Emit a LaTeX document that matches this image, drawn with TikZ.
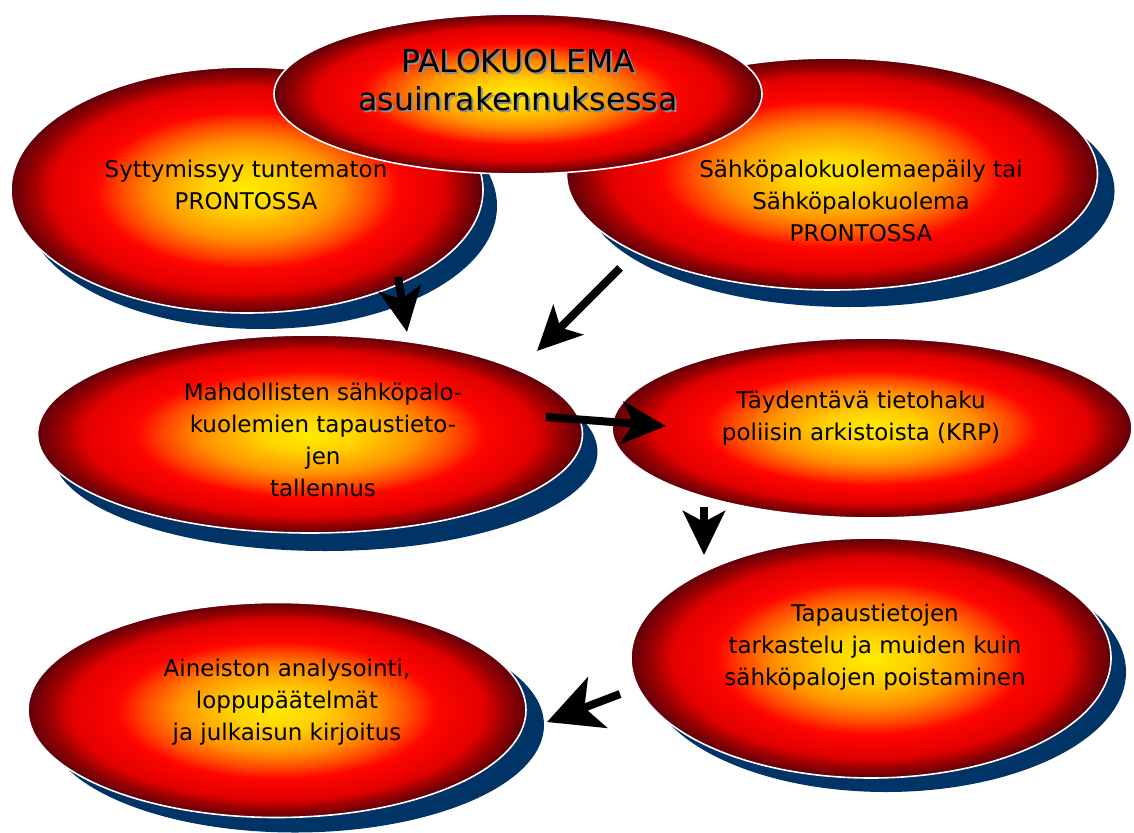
\documentclass[tikz,border=0pt]{standalone}
\usepackage{fontspec}
\setmainfont{DejaVu Sans}
\usetikzlibrary{shapes.geometric, arrows.meta}
\definecolor{shadowblue}{RGB}{0,51,102}
\definecolor{fireyellow}{RGB}{255,236,0}
\definecolor{fireyellow2}{RGB}{255,210,0}
\definecolor{fireorange}{RGB}{255,145,0}
\definecolor{fireredorange}{RGB}{255,70,0}
\definecolor{firered}{RGB}{255,5,0}
\definecolor{firered2}{RGB}{225,0,0}
\definecolor{firered3}{RGB}{160,0,0}
\definecolor{firedark}{RGB}{95,0,10}
\definecolor{titleshadow}{RGB}{140,140,140}
\pgfdeclareradialshading{fire}{\pgfpointorigin}{color(0bp)=(fireyellow); color(4.5bp)=(fireyellow2); color(10bp)=(fireorange); color(13.5bp)=(fireredorange); color(16bp)=(firered); color(20.8bp)=(firered2); color(22.7bp)=(firered3); color(25bp)=(firedark); color(50bp)=(firedark)}
\begin{document}
\begin{tikzpicture}[x=1pt,y=-1pt,
  fireell/.style={ellipse, inner sep=0pt, shade, shading=fire, draw=white, line width=1.6pt},
  shadowell/.style={ellipse, inner sep=0pt, fill=shadowblue, draw=none},
  bodytext/.style={align=center, inner sep=0pt, text=black, font=\fontsize{23}{32}\selectfont,
    execute at begin node=\strut, execute at end node=\strut},
  titletext/.style={align=center, inner sep=0pt, font=\fontsize{31.5}{38}\selectfont,
    execute at begin node=\strut, execute at end node=\strut},
  flow/.style={line width=8pt, -{Stealth[length=44pt,width=42pt,inset=11pt]}},
  bigflow/.style={line width=8pt, -{Stealth[length=54pt,width=54pt,inset=14pt]}}
]
\clip (0,0) rectangle (1134,832);
\fill[white] (0,0) rectangle (1134,832);

% top-left
\node[shadowell, minimum width=472pt, minimum height=246pt] (s1) at (261,206) {};
\node[fireell, minimum width=472pt, minimum height=246pt] (e1) at (247,190) {};
% top-right
\node[shadowell, minimum width=531pt, minimum height=232pt] (s2) at (849,191) {};
\node[fireell, minimum width=531pt, minimum height=232pt] (e2) at (832,174) {};
% title
\node[fireell, minimum width=488pt, minimum height=160pt] (e0) at (518,94) {};
% middle-left
\node[shadowell, minimum width=545pt, minimum height=198pt] (s3) at (325,452) {};
\node[fireell, minimum width=545pt, minimum height=198pt] (e3) at (310,434) {};
% middle-right
\node[fireell, minimum width=520pt, minimum height=180pt] (e4) at (872,428) {};
% bottom-right
\node[shadowell, minimum width=480pt, minimum height=240pt] (s5) at (886,672) {};
\node[fireell, minimum width=480pt, minimum height=240pt] (e5) at (871,658) {};
% bottom-left
\node[shadowell, minimum width=498pt, minimum height=215pt] (s6) at (295,725) {};
\node[fireell, minimum width=498pt, minimum height=215pt] (e6) at (277,710) {};

% texts
\node[titletext, text=titleshadow] (t0s) at (520,87.4) {PALOKUOLEMA\\asuinrakennuksessa};
\node[titletext, text=black] (t0) at (518,85.4) {PALOKUOLEMA\\asuinrakennuksessa};
\node[bodytext] (t1) at (246,190) {Syttymissyy tuntematon\\PRONTOSSA};
\node[bodytext] (t2) at (861,206) {Sähköpalokuolemaepäily tai\\Sähköpalokuolema\\PRONTOSSA};
\node[bodytext] (t3) at (323,445) {Mahdollisten sähköpalo-\\kuolemien tapaustieto-\\jen\\tallennus};
\node[bodytext] (t4) at (861,421) {Täydentävä tietohaku\\poliisin arkistoista (KRP)};
\node[bodytext] (t5) at (875,650) {Tapaustietojen\\tarkastelu ja muiden kuin\\sähköpalojen poistaminen};
\node[bodytext] (t6) at (287,705) {Aineiston analysointi,\\loppupäätelmät\\ja julkaisun kirjoitus};

% arrows
\coordinate (a1s) at (398,277); \coordinate (a1e) at (407,332);
\coordinate (a2s) at (620,268); \coordinate (a2e) at (537,351);
\coordinate (a3s) at (546,417); \coordinate (a3e) at (666,426);
\coordinate (a4s) at (704,507); \coordinate (a4e) at (704,555);
\coordinate (a5s) at (620,694); \coordinate (a5e) at (547,722);
\draw[flow] (a1s) -- (a1e);
\draw[flow] (a2s) -- (a2e);
\draw[flow] (a3s) -- (a3e);
\draw[flow] (a4s) -- (a4e);
\draw[bigflow] (a5s) -- (a5e);
\end{tikzpicture}
\end{document}
